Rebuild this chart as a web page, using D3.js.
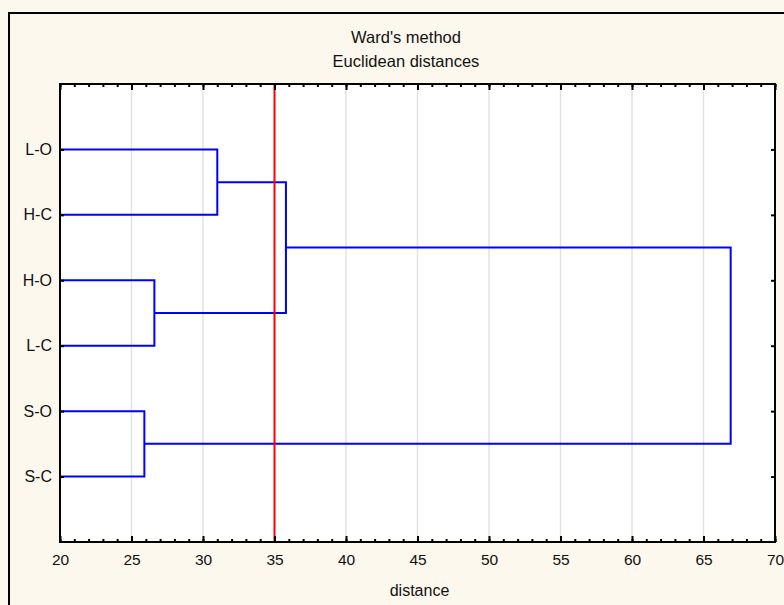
<!DOCTYPE html>
<html>
<head>
<meta charset="utf-8">
<script src="https://cdn.jsdelivr.net/npm/d3@7"></script>
<style>
  html, body { margin: 0; padding: 0; background: #fdf8ee; }
  svg { display: block; }
  text { font-family: "Liberation Sans", Arial, sans-serif; fill: #111; }
</style>
</head>
<body>
<svg id="chart" width="784" height="605"></svg>
<script>
// Leaf labels, top to bottom
const labels = ["L-O", "H-C", "H-O", "L-C", "S-O", "S-C"];
// Linkage: node ids 0..5 are leaves, each merge creates node 6, 7, ...
const mergeA = [0, 2, 4, 6, 9];
const mergeB = [1, 3, 5, 7, 8];
const mergeDist = [31.0, 26.6, 25.9, 35.8, 66.9];
// Cut-off distance marked in red
const cutoff = 35;
// Axis ticks
const xMajor = [20, 25, 30, 35, 40, 45, 50, 55, 60, 65, 70];
const xMinor = d3.range(20, 71, 1);
const gridVals = [25, 30, 40, 45, 50, 55, 60, 65];

const svg = d3.select("#chart");
const W = 784, H = 605;
const m = { left: 60, right: 775, top: 84, bottom: 542 };

svg.append("rect").attr("width", W).attr("height", H).attr("fill", "#fdf8ee");
// Outer frame
svg.append("rect").attr("x", 9).attr("y", 13).attr("width", W + 20).attr("height", H + 20)
  .attr("fill", "none").attr("stroke", "#000").attr("stroke-width", 2);

const x = d3.scaleLinear().domain([20, 70]).range([m.left, m.right]);
const y = d3.scaleLinear().domain([0, labels.length + 1]).range([m.top, m.bottom]);

// Plot area
svg.append("rect").attr("x", m.left).attr("y", m.top)
  .attr("width", m.right - m.left).attr("height", m.bottom - m.top).attr("fill", "#fff");

// Grid lines
svg.append("g").selectAll("line").data(gridVals).join("line")
  .attr("x1", d => x(d)).attr("x2", d => x(d))
  .attr("y1", m.top).attr("y2", m.bottom)
  .attr("stroke", "#e2e2e2").attr("stroke-width", 1.5);

// Node positions
const nodes = labels.map((l, i) => ({ x: 20, y: i + 1 }));
mergeA.forEach((a, i) => {
  const b = mergeB[i];
  nodes.push({ x: mergeDist[i], y: (nodes[a].y + nodes[b].y) / 2 });
});

// Dendrogram links
const links = mergeA.map((a, i) => ({ a: nodes[a], b: nodes[mergeB[i]], h: mergeDist[i] }));
svg.append("g").selectAll("path").data(links).join("path")
  .attr("d", d => {
    const p = d3.path();
    p.moveTo(x(d.a.x), y(d.a.y));
    p.lineTo(x(d.h), y(d.a.y));
    p.lineTo(x(d.h), y(d.b.y));
    p.lineTo(x(d.b.x), y(d.b.y));
    return p.toString();
  })
  .attr("fill", "none").attr("stroke", "#0000ff").attr("stroke-width", 2);

// Cut-off line
svg.append("line")
  .attr("x1", x(cutoff)).attr("x2", x(cutoff))
  .attr("y1", m.top).attr("y2", m.bottom)
  .attr("stroke", "#ff0000").attr("stroke-width", 2);

// Bottom axis
const bottomMinor = svg.append("g").attr("transform", `translate(0,${m.bottom})`);
bottomMinor.call(d3.axisBottom(x).tickValues(xMinor).tickSize(-3).tickFormat(""));
const bottomMajor = svg.append("g").attr("transform", `translate(0,${m.bottom})`);
bottomMajor.call(d3.axisBottom(x).tickValues(xMajor).tickSize(-6).tickPadding(12).tickFormat(d3.format("d")));
// Top axis
const topMinor = svg.append("g").attr("transform", `translate(0,${m.top})`);
topMinor.call(d3.axisTop(x).tickValues(xMinor).tickSize(-3).tickFormat(""));
const topMajor = svg.append("g").attr("transform", `translate(0,${m.top})`);
topMajor.call(d3.axisTop(x).tickValues(xMajor).tickSize(-6).tickFormat(""));

// Left axis with leaf labels
const yTicks = labels.map((l, i) => i + 1);
const leftAxis = svg.append("g").attr("transform", `translate(${m.left},0)`);
leftAxis.call(d3.axisLeft(y).tickValues(yTicks).tickSize(-4).tickPadding(8).tickFormat(d => labels[d - 1]));
const rightAxis = svg.append("g").attr("transform", `translate(${m.right},0)`);
rightAxis.call(d3.axisRight(y).tickValues(yTicks).tickSize(-4).tickFormat(""));

svg.selectAll(".domain").remove();
svg.selectAll(".tick line").attr("stroke", "#000").attr("stroke-width", 2);
svg.selectAll(".tick text").style("font-family", '"Liberation Sans", Arial, sans-serif')
  .style("font-size", "15.5px").attr("fill", "#111");
leftAxis.selectAll(".tick text").style("font-size", "16px");

// Plot frame
svg.append("rect").attr("x", m.left).attr("y", m.top)
  .attr("width", m.right - m.left).attr("height", m.bottom - m.top)
  .attr("fill", "none").attr("stroke", "#000").attr("stroke-width", 2);

// Titles
svg.append("text").attr("x", 406).attr("y", 43).attr("text-anchor", "middle")
  .style("font-size", "16.5px").text("Ward's method");
svg.append("text").attr("x", 406).attr("y", 67).attr("text-anchor", "middle")
  .style("font-size", "16.5px").text("Euclidean distances");
svg.append("text").attr("x", (m.left + m.right) / 2 + 2).attr("y", 596).attr("text-anchor", "middle")
  .style("font-size", "16px").text("distance");
</script>
</body>
</html>
